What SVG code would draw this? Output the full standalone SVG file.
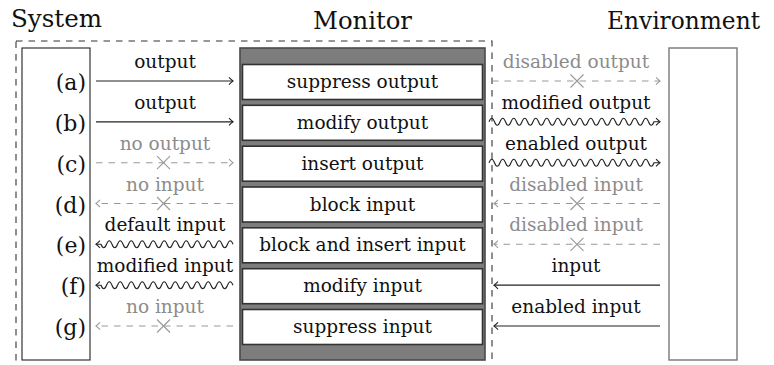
<svg xmlns="http://www.w3.org/2000/svg" width="774" height="365" viewBox="0 0 774 365">
<style>
text{font-family:"DejaVu Serif","Liberation Serif",serif;}
.title{font-size:24px;fill:#111;}
.row{font-size:22px;fill:#111;text-anchor:end;}
.lbl{font-size:18.5px;fill:#111;text-anchor:middle;}
.lg{font-size:18.5px;fill:#8c8c8c;text-anchor:middle;}
.bt{font-size:18.5px;fill:#111;text-anchor:middle;}
.ibox{fill:#fff;stroke:#333;stroke-width:1.6;}
.solid{fill:none;stroke:#222;stroke-width:1.2;marker-end:url(#ab);}
.wave{fill:none;stroke:#222;stroke-width:1.1;marker-end:url(#ab);}
.dash{fill:none;stroke:#999;stroke-width:1.1;stroke-dasharray:6.5 6;marker-end:url(#ag);}
.x{fill:none;stroke:#999;stroke-width:1.1;}
</style>
<defs>
<marker id="ab" viewBox="-6 -5 8 10" refX="0" refY="0" markerWidth="8" markerHeight="10" markerUnits="userSpaceOnUse" orient="auto" overflow="visible">
<path d="M-4,-3.6 Q-1.4,-1 0,0 Q-1.4,1 -4,3.6" fill="none" stroke="#222" stroke-width="1.1" stroke-dasharray="none"/>
</marker>
<marker id="ag" viewBox="-6 -5 8 10" refX="0" refY="0" markerWidth="8" markerHeight="10" markerUnits="userSpaceOnUse" orient="auto" overflow="visible">
<path d="M-4,-3.6 Q-1.4,-1 0,0 Q-1.4,1 -4,3.6" fill="none" stroke="#999" stroke-width="1.1" stroke-dasharray="none"/>
</marker>
</defs>
<rect width="774" height="365" fill="#fff"/>

<text class="title" x="11" y="27" textLength="91" lengthAdjust="spacingAndGlyphs">System</text>
<text class="title" x="313" y="29" textLength="99" lengthAdjust="spacingAndGlyphs">Monitor</text>
<text class="title" x="607" y="29" textLength="153" lengthAdjust="spacingAndGlyphs">Environment</text>

<rect id="boundary" x="16" y="41" width="476" height="340" fill="none" stroke="#333" stroke-width="1.1" stroke-dasharray="6.5 6"/>

<g id="system">
<rect x="22" y="48" width="68" height="312" fill="#fff" stroke="#222" stroke-width="1.1"/>
<text class="row" x="86" y="90">(a)</text>
<text class="row" x="86" y="131">(b)</text>
<text class="row" x="86" y="172">(c)</text>
<text class="row" x="86" y="212.5">(d)</text>
<text class="row" x="86" y="253">(e)</text>
<text class="row" x="86" y="294">(f)</text>
<text class="row" x="86" y="335">(g)</text>
</g>

<g id="monitor">
<rect x="240" y="48" width="245" height="312" fill="#7d7d7d" stroke="#4a4a4a" stroke-width="1.6"/>
<g id="m-a"><rect class="ibox" x="242.5" y="64.5" width="240" height="35"/><text class="bt" x="362.5" y="88">suppress output</text></g>
<g id="m-b"><rect class="ibox" x="242.5" y="105.3" width="240" height="35"/><text class="bt" x="362.5" y="128.8">modify output</text></g>
<g id="m-c"><rect class="ibox" x="242.5" y="146.2" width="240" height="35"/><text class="bt" x="362.5" y="169.7">insert output</text></g>
<g id="m-d"><rect class="ibox" x="242.5" y="187" width="240" height="35"/><text class="bt" x="362.5" y="210.5">block input</text></g>
<g id="m-e"><rect class="ibox" x="242.5" y="227.8" width="240" height="35"/><text class="bt" x="362.5" y="251.3">block and insert input</text></g>
<g id="m-f"><rect class="ibox" x="242.5" y="268.7" width="240" height="35"/><text class="bt" x="362.5" y="292.2">modify input</text></g>
<g id="m-g"><rect class="ibox" x="242.5" y="309.5" width="240" height="35"/><text class="bt" x="362.5" y="333">suppress input</text></g>
</g>

<g id="environment">
<rect x="669" y="48" width="68" height="312" fill="#fff" stroke="#777" stroke-width="1.4"/>
</g>

<g id="connectors">
<path class="solid" d="M96,81 H233"/>
<path class="solid" d="M96,121.8 H233"/>
<path class="dash" d="M96,162.7 H233"/>
<path class="x" d="M157,156.2 l13,13 M170,156.2 l-13,13"/>
<path class="dash" d="M233,203.5 H96"/>
<path class="x" d="M157,197 l13,13 M170,197 l-13,13"/>
<path class="wave" d="M233,244.3 q-2.75,-7 -5.5,0 t-5.5,0 t-5.5,0 t-5.5,0 t-5.5,0 t-5.5,0 t-5.5,0 t-5.5,0 t-5.5,0 t-5.5,0 t-5.5,0 t-5.5,0 t-5.5,0 t-5.5,0 t-5.5,0 t-5.5,0 t-5.5,0 t-5.5,0 t-5.5,0 t-5.5,0 t-5.5,0 t-5.5,0 t-5.5,0 t-5.5,0 h-5"/>
<path class="wave" d="M233,285.2 q-2.75,-7 -5.5,0 t-5.5,0 t-5.5,0 t-5.5,0 t-5.5,0 t-5.5,0 t-5.5,0 t-5.5,0 t-5.5,0 t-5.5,0 t-5.5,0 t-5.5,0 t-5.5,0 t-5.5,0 t-5.5,0 t-5.5,0 t-5.5,0 t-5.5,0 t-5.5,0 t-5.5,0 t-5.5,0 t-5.5,0 t-5.5,0 t-5.5,0 h-5"/>
<path class="dash" d="M233,326 H96"/>
<path class="x" d="M157,319.5 l13,13 M170,319.5 l-13,13"/>
<path class="dash" d="M492,81 H660"/>
<path class="x" d="M570.5,74.5 l13,13 M583.5,74.5 l-13,13"/>
<path class="wave" d="M489,121.8 q2.75,-7 5.5,0 t5.5,0 t5.5,0 t5.5,0 t5.5,0 t5.5,0 t5.5,0 t5.5,0 t5.5,0 t5.5,0 t5.5,0 t5.5,0 t5.5,0 t5.5,0 t5.5,0 t5.5,0 t5.5,0 t5.5,0 t5.5,0 t5.5,0 t5.5,0 t5.5,0 t5.5,0 t5.5,0 t5.5,0 t5.5,0 t5.5,0 t5.5,0 t5.5,0 t5.5,0 h6"/>
<path class="wave" d="M489,162.7 q2.75,-7 5.5,0 t5.5,0 t5.5,0 t5.5,0 t5.5,0 t5.5,0 t5.5,0 t5.5,0 t5.5,0 t5.5,0 t5.5,0 t5.5,0 t5.5,0 t5.5,0 t5.5,0 t5.5,0 t5.5,0 t5.5,0 t5.5,0 t5.5,0 t5.5,0 t5.5,0 t5.5,0 t5.5,0 t5.5,0 t5.5,0 t5.5,0 t5.5,0 t5.5,0 t5.5,0 h6"/>
<path class="dash" d="M660,203.5 H494"/>
<path class="x" d="M570.5,197 l13,13 M583.5,197 l-13,13"/>
<path class="dash" d="M660,244.3 H494"/>
<path class="x" d="M570.5,237.8 l13,13 M583.5,237.8 l-13,13"/>
<path class="solid" d="M660,285.2 H494"/>
<path class="solid" d="M660,326 H494"/>
</g>

<g id="labels">
<text class="lbl" x="165" y="68">output</text>
<text class="lbl" x="165" y="108.8">output</text>
<text class="lg" x="165" y="149.7">no output</text>
<text class="lg" x="165" y="190.5">no input</text>
<text class="lbl" x="165" y="231.3">default input</text>
<text class="lbl" x="165" y="272.2">modified input</text>
<text class="lg" x="165" y="313">no input</text>
<text class="lg" x="576" y="68">disabled output</text>
<text class="lbl" x="576" y="108.8">modified output</text>
<text class="lbl" x="576" y="149.7">enabled output</text>
<text class="lg" x="576" y="190.5">disabled input</text>
<text class="lg" x="576" y="231.3">disabled input</text>
<text class="lbl" x="576" y="272.2">input</text>
<text class="lbl" x="576" y="313">enabled input</text>
</g>
</svg>
